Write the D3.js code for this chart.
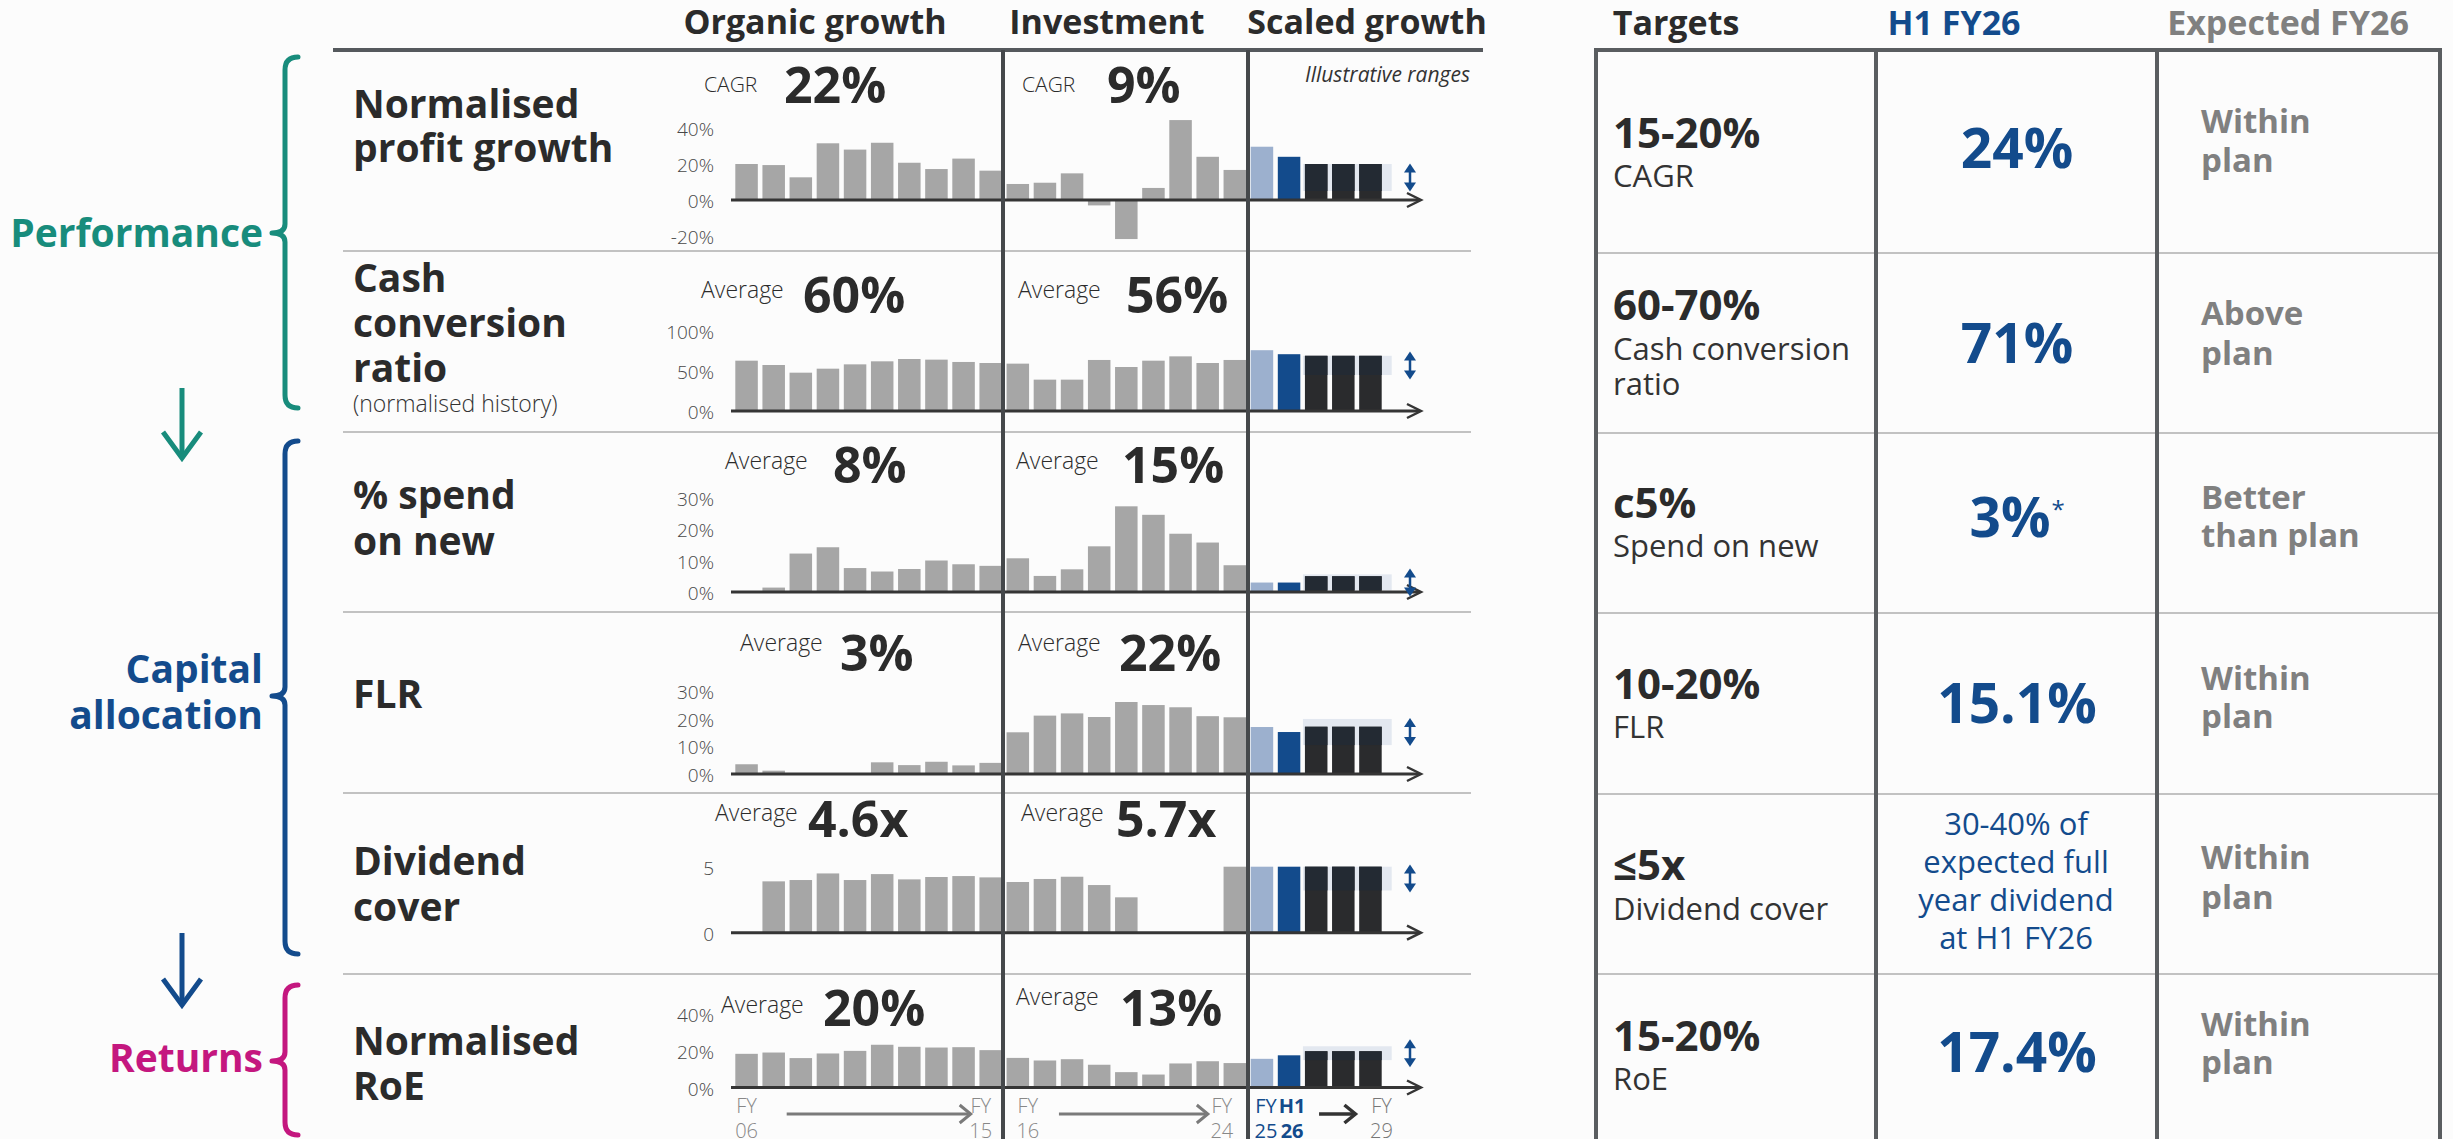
<!DOCTYPE html>
<html>
<head>
<meta charset="utf-8">
<script src="https://cdn.jsdelivr.net/npm/d3@7"></script>
<style>
  body { margin: 0; background: #fcfcfc; }
  svg { display: block; }
  text { font-family: "Open Sans", "Noto Sans", sans-serif; }
</style>
</head>
<body>
<svg id="chart" width="2453" height="1139"></svg>
<script>
// ---- Categories ----
const years = ["FY06","FY07","FY08","FY09","FY10","FY11","FY12","FY13","FY14","FY15",
               "FY16","FY17","FY18","FY19","FY20","FY21","FY22","FY23","FY24",
               "FY25","H1 FY26","FY27","FY28","FY29"];
const historyYears = years.slice(0, 19);
const outlookYears = years.slice(19);

// ---- History series (FY06–FY24) ----
const profitGrowth   = [20, 19.4, 12.6, 31.5, 28, 31.8, 20.7, 17.2, 23, 16.3, 8.9, 9.6, 14.8, -3, -21.7, 6.7, 44.4, 24, 16.7];
const cashConversion = [62.9, 57.5, 47.9, 52.9, 58.3, 62.1, 65, 64.2, 61.3, 60, 59.2, 39.2, 39.2, 63.8, 55, 62.9, 68.3, 60, 63.8];
const spendOnNew     = [null, 1.4, 12.2, 14.2, 7.6, 6.5, 7.3, 10, 8.8, 8.3, 10.7, 5.1, 7.2, 14.5, 27.2, 24.5, 18.5, 15.7, 8.5];
const flr            = [3.5, 1.2, 0.3, 0.2, 0.2, 4.2, 3.2, 4.4, 3.1, 4.0, 15, 21, 21.8, 20.5, 25.9, 24.8, 24, 20.8, 20.4];
const dividendCover  = [null, 3.89, 3.99, 4.49, 3.99, 4.44, 4.04, 4.22, 4.29, 4.19, 3.84, 4.07, 4.24, 3.61, 2.68, null, null, null, 5.0];
const roe            = [18.2, 18.9, 15.9, 18.4, 19.8, 23.1, 22, 21.6, 21.8, 20.2, 16, 14.6, 15.3, 12.3, 8.3, 7, 13, 14.2, 13.2];

// ---- Scaled growth outlook (FY25, H1 FY26, then illustrative) ----
const profitGrowthOutlook   = [29.6, 24, 20, 20, 20];
const cashConversionOutlook = [76, 71, 69, 69, 69];
const spendOnNewOutlook     = [3, 3, 5, 5, 5];
const flrOutlook            = [16.9, 15.1, 17, 17, 17];
const dividendCoverOutlook  = [5, 5, 5, 5, 5];
const roeOutlook            = [15.5, 17.4, 19.6, 19.6, 19.6];

// ---- Illustrative target ranges ----
const profitGrowthRange   = [5, 20];
const cashConversionRange = [45, 69];
const spendOnNewRange     = [0.5, 5.6];
const flrRange            = [10.4, 19.8];
const dividendCoverRange  = [3.2, 5];
const roeRange            = [14.8, 22.3];

// ---- Axis ticks ----
const profitGrowthTicks   = [-20, 0, 20, 40];
const cashConversionTicks = [0, 50, 100];
const spendOnNewTicks     = [0, 10, 20, 30];
const flrTicks            = [0, 10, 20, 30];
const dividendCoverTicks  = [0, 5];
const roeTicks            = [0, 20, 40];

// ---- Text ----
const sectionHeaders = ["Organic growth", "Investment", "Scaled growth"];
const rowLabels = [["Normalised", "profit growth"], ["Cash", "conversion", "ratio"], ["% spend", "on new"], ["FLR"], ["Dividend", "cover"], ["Normalised", "RoE"]];
const statPrefixes = ["CAGR", "Average", "Average", "Average", "Average", "Average"];
const organicStats = ["22%", "60%", "8%", "3%", "4.6x", "20%"];
const investmentStats = ["9%", "56%", "15%", "22%", "5.7x", "13%"];
const tableHeaders = ["Targets", "H1 FY26", "Expected FY26"];
const targetValues = ["15-20%", "60-70%", "c5%", "10-20%", "≤5x", "15-20%"];
const targetNames = [["CAGR"], ["Cash conversion", "ratio"], ["Spend on new"], ["FLR"], ["Dividend cover"], ["RoE"]];
const h1Results = ["24%", "71%", "3%", "15.1%", null, "17.4%"];
const h1DividendNote = ["30-40% of", "expected full", "year dividend", "at H1 FY26"];
const expectedOutcome = [["Within", "plan"], ["Above", "plan"], ["Better", "than plan"], ["Within", "plan"], ["Within", "plan"], ["Within", "plan"]];

// ---- Colours ----
const C = {
  bg: "#fcfcfc", ink: "#2b2b2b", grey: "#a6a6a6", rule: "#c2c2c2", frame: "#4a4d50",
  teal: "#188c7c", blue: "#134b8c", pink: "#c4177f", lightBlue: "#9cb0ce",
  outlook: "#2a2b2d", outlookBand: "#232a33", band: "#e3e8f0", muted: "#808080", tick: "#484848"
};

const svg = d3.select("#chart");
svg.append("rect").attr("width", 2453).attr("height", 1139).attr("fill", C.bg);

const x = d3.scaleBand().domain(years).range([733, 1384]).paddingInner(0.17).paddingOuter(0.085);
const bw = x.bandwidth();

// Row geometry and content
const rows = [
  { hist: profitGrowth, out: profitGrowthOutlook, range: profitGrowthRange, ticks: profitGrowthTicks, fmt: d => d + "%",
    domain: [-20, 40], px: [236, 128], stat: [92, 103], statX: [704, 784, 1022, 1107], label: [118, 162] },
  { hist: cashConversion, out: cashConversionOutlook, range: cashConversionRange, ticks: cashConversionTicks, fmt: d => d + "%",
    domain: [0, 100], px: [411, 331], stat: [298, 313], statX: [701, 803, 1018, 1126], label: [292, 337, 382] },
  { hist: spendOnNew, out: spendOnNewOutlook, range: spendOnNewRange, ticks: spendOnNewTicks, fmt: d => d + "%",
    domain: [0, 30], px: [592, 497.5], stat: [469, 483], statX: [725, 833, 1016, 1122], label: [509, 555] },
  { hist: flr, out: flrOutlook, range: flrRange, ticks: flrTicks, fmt: d => d + "%",
    domain: [0, 30], px: [774, 690.6], stat: [651, 671], statX: [740, 840, 1018, 1119], label: [708] },
  { hist: dividendCover, out: dividendCoverOutlook, range: dividendCoverRange, ticks: dividendCoverTicks, fmt: d => String(d),
    domain: [0, 5], px: [932.7, 866.7], stat: [821, 837], statX: [715, 808, 1021, 1116], label: [875, 921] },
  { hist: roe, out: roeOutlook, range: roeRange, ticks: roeTicks, fmt: d => d + "%",
    domain: [0, 40], px: [1087.5, 1013.5], stat: [1013, 1026], statX: [721, 823, 1016, 1120], label: [1055, 1100], invStat: 1005 }
];
const rowSeparators = [251, 432, 612, 793, 974];

// ---- Column headers and frame ----
svg.selectAll("text.section").data(sectionHeaders).join("text")
  .attr("x", (d, i) => [815, 1107, 1367][i]).attr("y", 34)
  .attr("text-anchor", "middle").attr("font-size", 34).attr("font-weight", 700).attr("fill", C.ink)
  .text(d => d);
svg.append("line").attr("x1", 333).attr("x2", 1483).attr("y1", 50).attr("y2", 50)
  .attr("stroke", "#55595d").attr("stroke-width", 4);
svg.append("text").attr("x", 1470).attr("y", 82).attr("text-anchor", "end")
  .attr("font-size", 21).attr("font-style", "italic").attr("fill", "#333").text("Illustrative ranges");

rowSeparators.forEach(y => {
  svg.append("line").attr("x1", 343).attr("x2", 1471).attr("y1", y).attr("y2", y)
    .attr("stroke", C.rule).attr("stroke-width", 2);
});

// ---- Rows ----
rows.forEach((r, ri) => {
  const g = svg.append("g");
  const y = d3.scaleLinear().domain(r.domain).range(r.px);

  // row title
  const lab = g.append("text").attr("font-size", 39).attr("font-weight", 700).attr("fill", C.ink);
  rowLabels[ri].forEach((t, li) => {
    lab.append("tspan").attr("x", 353).attr("y", r.label[li]).text(t);
  });
  if (ri === 1) {
    g.append("text").attr("x", 353).attr("y", 412).attr("font-size", 23).attr("font-weight", 300)
      .attr("fill", "#333").text("(normalised history)");
  }

  // headline stats
  const statY = [r.stat[0], r.stat[1], r.invStat || r.stat[0], r.stat[1]];
  const prefSize = ri === 0 ? 21 : 23;
  g.append("text").attr("x", r.statX[0]).attr("y", statY[0]).attr("font-size", prefSize).attr("font-weight", 300).attr("fill", C.ink).text(statPrefixes[ri]);
  g.append("text").attr("x", r.statX[1]).attr("y", statY[1]).attr("font-size", 50).attr("font-weight", 700).attr("fill", C.ink).text(organicStats[ri]);
  g.append("text").attr("x", r.statX[2]).attr("y", statY[2]).attr("font-size", prefSize).attr("font-weight", 300).attr("fill", C.ink).text(statPrefixes[ri]);
  g.append("text").attr("x", r.statX[3]).attr("y", statY[3]).attr("font-size", 50).attr("font-weight", 700).attr("fill", C.ink).text(investmentStats[ri]);

  // y ticks
  const ax = g.append("g").attr("transform", "translate(714,0)")
    .call(d3.axisLeft(y).tickValues(r.ticks).tickFormat(r.fmt).tickSize(0).tickPadding(0));
  ax.select(".domain").remove();
  ax.selectAll("text").attr("font-family", "'Open Sans', sans-serif").attr("font-size", 19)
    .attr("font-weight", 300).attr("fill", C.tick).attr("dy", "0.4em");

  // history bars
  g.selectAll("rect.hist").data(historyYears.map((k, i) => ({ k, v: r.hist[i] })).filter(d => d.v != null))
    .join("rect").attr("class", "hist")
    .attr("x", d => x(d.k)).attr("width", bw)
    .attr("y", d => y(Math.max(0, d.v))).attr("height", d => Math.abs(y(d.v) - y(0)))
    .attr("fill", C.grey);

  // illustrative range band
  const yHi = y(r.range[1]), yLo = y(r.range[0]);
  g.append("rect").attr("x", x("FY27") - 2).attr("width", x("FY29") + bw + 10 - (x("FY27") - 2))
    .attr("y", yHi).attr("height", yLo - yHi).attr("fill", C.band);

  // outlook bars
  const outData = outlookYears.map((k, i) => ({ k, v: r.out[i], i }));
  g.selectAll("rect.out").data(outData).join("rect").attr("class", "out")
    .attr("x", d => x(d.k)).attr("width", bw)
    .attr("y", d => y(d.v)).attr("height", d => y(0) - y(d.v))
    .attr("fill", d => d.i === 0 ? C.lightBlue : d.i === 1 ? C.blue : C.outlook);
  // part of each illustrative bar lying inside the band
  g.selectAll("rect.outBand").data(outData.filter(d => d.i > 1)).join("rect").attr("class", "outBand")
    .attr("x", d => x(d.k)).attr("width", bw)
    .attr("y", d => y(Math.min(d.v, r.range[1])))
    .attr("height", d => Math.max(0, y(Math.max(0, r.range[0])) - y(Math.min(d.v, r.range[1]))))
    .attr("fill", C.outlookBand);

  // baseline with arrow head
  const y0 = y(0);
  g.append("line").attr("x1", 731).attr("x2", 1420).attr("y1", y0).attr("y2", y0)
    .attr("stroke", "#353535").attr("stroke-width", 3);
  g.append("path").attr("d", `M1407,${y0 - 7}L1421,${y0}L1407,${y0 + 7}`)
    .attr("fill", "none").attr("stroke", "#353535").attr("stroke-width", 2.5);

  // double-headed range arrow
  const mid = (yHi + yLo) / 2, ax0 = mid - 14, ax1 = mid + 14, xa = 1410;
  g.append("line").attr("x1", xa).attr("x2", xa).attr("y1", ax0 + 6).attr("y2", ax1 - 6)
    .attr("stroke", C.blue).attr("stroke-width", 2.5);
  g.append("path").attr("d", `M${xa - 6},${ax0 + 9}L${xa},${ax0}L${xa + 6},${ax0 + 9}Z`).attr("fill", C.blue);
  g.append("path").attr("d", `M${xa - 6},${ax1 - 9}L${xa},${ax1}L${xa + 6},${ax1 - 9}Z`).attr("fill", C.blue);
});

// section dividers
[1003, 1248].forEach(xx => {
  svg.append("line").attr("x1", xx).attr("x2", xx).attr("y1", 50).attr("y2", 1139)
    .attr("stroke", "#45484b").attr("stroke-width", 4);
});

// ---- Period labels under the last row ----
const cx = k => x(k) + bw / 2;
const periodLabels = [
  { k: "FY06", dx: 0, top: "FY", bot: "06", color: "#888", w: 300 },
  { k: "FY15", dx: -10, top: "FY", bot: "15", color: "#888", w: 300 },
  { k: "FY16", dx: 10, top: "FY", bot: "16", color: "#888", w: 300 },
  { k: "FY24", dx: -13, top: "FY", bot: "24", color: "#888", w: 300 },
  { k: "FY25", dx: 4, top: "FY", bot: "25", color: C.blue, w: 400 },
  { k: "H1 FY26", dx: 3, top: "H1", bot: "26", color: C.blue, w: 700 },
  { k: "FY29", dx: 11, top: "FY", bot: "29", color: "#777", w: 300 }
];
periodLabels.forEach(p => {
  [p.top, p.bot].forEach((t, i) => {
    svg.append("text").attr("x", cx(p.k) + p.dx).attr("y", i ? 1138 : 1113).attr("text-anchor", "middle")
      .attr("font-size", 20).attr("font-weight", p.w).attr("fill", p.color).text(t);
  });
});
function arrow(x1, x2, yy, color, sw) {
  svg.append("line").attr("x1", x1).attr("x2", x2 - 2).attr("y1", yy).attr("y2", yy).attr("stroke", color).attr("stroke-width", sw);
  svg.append("path").attr("d", `M${x2 - 11},${yy - 9}L${x2},${yy}L${x2 - 11},${yy + 9}`)
    .attr("fill", "none").attr("stroke", color).attr("stroke-width", sw);
}
arrow(cx("FY07") + 13, cx("FY15") - 20, 1114, "#7a7a7a", 3);
arrow(cx("FY17") + 14, cx("FY24") - 27, 1114, "#7a7a7a", 3);
arrow(cx("H1 FY26") + 30, cx("FY29") - 15, 1114, "#333", 3.5);

// ---- Group labels, braces and flow arrows ----
function brace(y0, ym, y1, color) {
  const xl = 285, xr = 298, xt = 272;
  svg.append("path")
    .attr("d", `M${xr},${y0}Q${xl},${y0} ${xl},${y0 + 13}L${xl},${ym - 9}Q${xl},${ym} ${xt},${ym}Q${xl},${ym} ${xl},${ym + 9}L${xl},${y1 - 13}Q${xl},${y1} ${xr},${y1}`)
    .attr("fill", "none").attr("stroke", color).attr("stroke-width", 5).attr("stroke-linecap", "round").attr("stroke-linejoin", "round");
}
brace(57, 233, 408, C.teal);
brace(441, 696, 954, C.blue);
brace(985, 1061, 1135, C.pink);

const groups = [
  { lines: ["Performance"], ys: [247], color: C.teal },
  { lines: ["Capital", "allocation"], ys: [683, 729], color: C.blue },
  { lines: ["Returns"], ys: [1072], color: C.pink }
];
groups.forEach(gr => gr.lines.forEach((t, i) => {
  svg.append("text").attr("x", 263).attr("y", gr.ys[i]).attr("text-anchor", "end")
    .attr("font-size", 39).attr("font-weight", 700).attr("fill", gr.color).text(t);
}));
function flowArrow(y0, y1, color) {
  svg.append("line").attr("x1", 182).attr("x2", 182).attr("y1", y0).attr("y2", y1 - 2).attr("stroke", color).attr("stroke-width", 5);
  svg.append("path").attr("d", `M163,${y1 - 26}L182,${y1}L201,${y1 - 26}`).attr("fill", "none")
    .attr("stroke", color).attr("stroke-width", 5).attr("stroke-linejoin", "miter");
}
flowArrow(388, 458, C.teal);
flowArrow(933, 1005, C.blue);

// ---- Targets table ----
const colX = [1596, 1876, 2157, 2440];
svg.selectAll("text.th").data(tableHeaders).join("text")
  .attr("x", (d, i) => [1676, 1954, 2288][i]).attr("y", 35).attr("text-anchor", "middle")
  .attr("font-size", 34).attr("font-weight", 700)
  .attr("fill", (d, i) => [C.ink, C.blue, C.muted][i]).text(d => d);

const tableRows = [253, 433, 613, 794, 974];
tableRows.forEach(y => {
  svg.append("line").attr("x1", colX[0]).attr("x2", colX[3]).attr("y1", y).attr("y2", y)
    .attr("stroke", C.rule).attr("stroke-width", 2);
});
svg.append("line").attr("x1", colX[0] - 2).attr("x2", colX[3] + 2).attr("y1", 50).attr("y2", 50)
  .attr("stroke", "#5a5d60").attr("stroke-width", 4);
colX.forEach(xx => {
  svg.append("line").attr("x1", xx).attr("x2", xx).attr("y1", 50).attr("y2", 1139)
    .attr("stroke", "#5a5d60").attr("stroke-width", 4);
});

const cellY = [
  { v: 148, n: [187], h: 168, e: [133, 172] },
  { v: 320, n: [360, 395], h: 363, e: [325, 365] },
  { v: 518, n: [557], h: 537, e: [509, 547] },
  { v: 699, n: [738], h: 723, e: [690, 728] },
  { v: 880, n: [920], h: null, e: [869, 909] },
  { v: 1051, n: [1090], h: 1072, e: [1036, 1074] }
];
cellY.forEach((c, i) => {
  svg.append("text").attr("x", 1613).attr("y", c.v).attr("font-size", 42).attr("font-weight", 700)
    .attr("fill", C.ink).text(targetValues[i]);
  targetNames[i].forEach((t, j) => {
    svg.append("text").attr("x", 1613).attr("y", c.n[j]).attr("font-size", 31).attr("font-weight", 400)
      .attr("fill", "#333").text(t);
  });
  if (h1Results[i] != null) {
    const cxh = i === 2 ? 2010 : 2017;
    svg.append("text").attr("x", cxh).attr("y", c.h).attr("text-anchor", "middle")
      .attr("font-size", 55).attr("font-weight", 700).attr("fill", C.blue).text(h1Results[i]);
  }
  expectedOutcome[i].forEach((t, j) => {
    svg.append("text").attr("x", 2201).attr("y", c.e[j]).attr("font-size", 33).attr("font-weight", 700)
      .attr("fill", C.muted).text(t);
  });
});
svg.append("text").attr("x", 2058).attr("y", 518).attr("text-anchor", "middle").attr("font-size", 24)
  .attr("font-weight", 400).attr("fill", C.blue).text("*");
h1DividendNote.forEach((t, j) => {
  svg.append("text").attr("x", 2016).attr("y", [835, 873, 911, 949][j]).attr("text-anchor", "middle")
    .attr("font-size", 31).attr("font-weight", 400).attr("fill", C.blue).text(t);
});
</script>
</body>
</html>
